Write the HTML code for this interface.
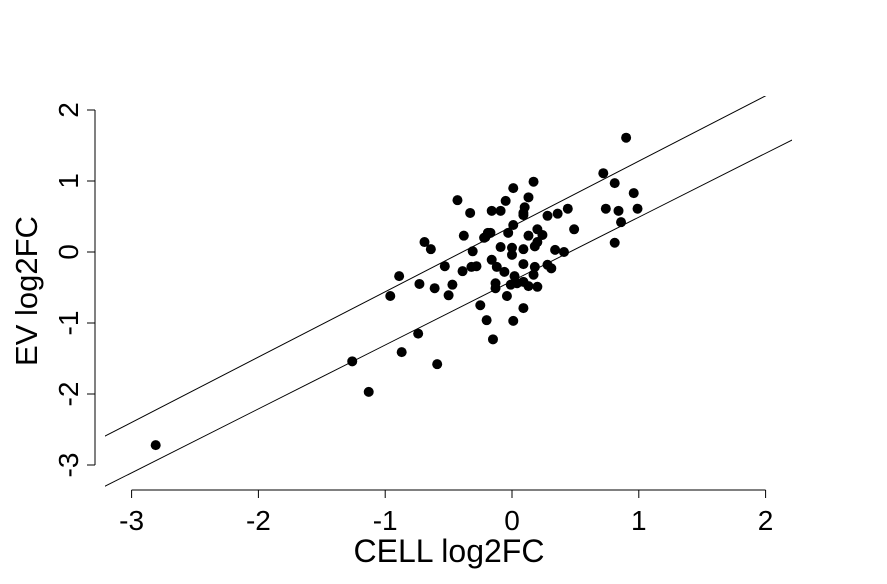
<!DOCTYPE html>
<html><head><meta charset="utf-8"><style>body{margin:0;background:#fff}svg{display:block}text{font-family:"Liberation Sans",sans-serif;fill:#000}</style></head>
<body>
<svg id="chart" width="887" height="584" viewBox="0 0 887 584">
<defs><clipPath id="clip"><rect x="105" y="96" width="687" height="391"/></clipPath></defs>
<g id="axes"></g>
<g id="lines" clip-path="url(#clip)"></g>
<g id="pts"></g>
<text x="449" y="562" font-size="32" text-anchor="middle">CELL log2FC</text>
<text transform="translate(37,291) rotate(-90)" font-size="31" text-anchor="middle">EV log2FC</text>
</svg>
<script>
const xVals=[-2.81,-1.26,-1.13,-0.87,-0.59,-0.74,-0.96,-0.89,-0.73,-0.61,-0.69,-0.64,-0.53,-0.50,-0.47,-0.43,-0.38,-0.39,-0.33,-0.32,-0.28,-0.31,-0.25,-0.20,-0.15,-0.22,-0.19,-0.21,-0.17,-0.16,-0.09,-0.16,-0.12,-0.06,-0.13,-0.13,-0.09,-0.05,-0.03,0.01,0.01,0.00,0.00,-0.04,0.01,-0.01,0.04,0.09,0.13,0.20,0.17,0.02,0.09,0.18,0.28,0.31,0.09,0.09,0.18,0.20,0.13,0.20,0.24,0.34,0.41,0.09,0.10,0.13,0.17,0.28,0.36,0.44,0.49,0.72,0.74,0.81,0.84,0.86,0.81,0.90,0.96,0.99,0.09];
const yVals=[-2.72,-1.54,-1.97,-1.41,-1.58,-1.15,-0.62,-0.34,-0.45,-0.51,0.14,0.04,-0.20,-0.61,-0.46,0.73,0.23,-0.27,0.55,-0.21,-0.20,0.01,-0.75,-0.96,-1.23,0.20,0.27,0.21,0.27,0.58,0.58,-0.11,-0.21,-0.28,-0.44,-0.51,0.07,0.72,0.27,0.90,0.38,0.06,-0.04,-0.62,-0.97,-0.46,-0.44,-0.42,-0.48,-0.49,-0.32,-0.34,-0.17,-0.21,-0.18,-0.23,-0.79,0.04,0.08,0.14,0.23,0.32,0.24,0.03,0.00,0.52,0.63,0.77,0.99,0.51,0.54,0.61,0.32,1.11,0.61,0.97,0.58,0.42,0.13,1.61,0.83,0.61,0.55];
const xTicks=[-3,-2,-1,0,1,2];
const yTicks=[-3,-2,-1,0,1,2];
const lineSlopes=[0.92,0.90];
const lineIntercepts=[0.36,-0.41];
const X=v=>512+v*126.8, Y=v=>252-v*71;
const NS="http://www.w3.org/2000/svg";
function mk(t,a,p){const e=document.createElementNS(NS,t);for(const k in a)e.setAttribute(k,a[k]);p.appendChild(e);return e;}
const ax=document.getElementById('axes');
const xa=mk('line',{x1:X(-3),x2:X(2),y1:490,y2:490,stroke:'#000'},ax);


xTicks.forEach(t=>{mk('line',{x1:X(t),x2:X(t),y1:490,y2:498,stroke:'#000'},ax);
const tx=mk('text',{x:X(t),y:530,'font-size':28,'text-anchor':'middle'},ax);tx.textContent=t;

});
const ya=mk('line',{x1:95,x2:95,y1:Y(-3),y2:Y(2),stroke:'#000'},ax);


yTicks.forEach(t=>{mk('line',{x1:87,x2:95,y1:Y(t),y2:Y(t),stroke:'#000'},ax);
const tx=mk('text',{transform:`translate(78,${Y(t)}) rotate(-90)`,'font-size':28,'text-anchor':'middle'},ax);tx.textContent=t;

});
const lg=document.getElementById('lines');
lineSlopes.forEach((s,i)=>{const b=lineIntercepts[i];
const l=mk('line',{x1:X(-3.5),y1:Y(s*-3.5+b),x2:X(2.5),y2:Y(s*2.5+b),stroke:'#000','stroke-width':1},lg);

});
const pg=document.getElementById('pts');
xVals.forEach((v,i)=>{const c=mk('circle',{cx:X(v),cy:Y(yVals[i]),r:5,fill:'#000'},pg);

});
</script>
</body></html>
